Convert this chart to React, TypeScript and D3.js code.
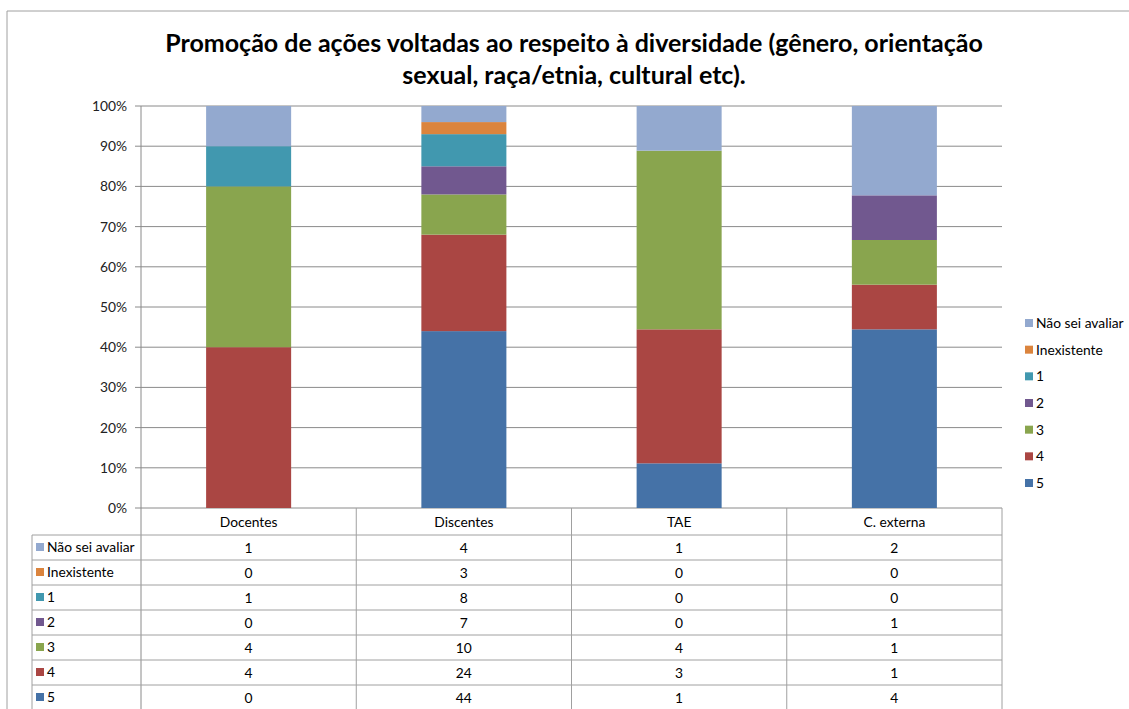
import React from "react";
import * as d3 from "d3";

const categories = ["Docentes", "Discentes", "TAE", "C. externa"];
const seriesNames = ["Não sei avaliar", "Inexistente", "1", "2", "3", "4", "5"];
const seriesColors = ["#93A9CF", "#DB843D", "#4198AF", "#71588F", "#89A54E", "#AA4643", "#4572A7"];
const naoSei = [1, 4, 1, 2];
const inexistente = [0, 3, 0, 0];
const s1 = [1, 8, 0, 0];
const s2 = [0, 7, 0, 1];
const s3 = [4, 10, 4, 1];
const s4 = [4, 24, 3, 1];
const s5 = [0, 44, 1, 4];
const seriesValues = [naoSei, inexistente, s1, s2, s3, s4, s5];
const yTicks = [0, 0.1, 0.2, 0.3, 0.4, 0.5, 0.6, 0.7, 0.8, 0.9, 1];
const titleLines = [
  "Promoção de ações voltadas ao respeito à diversidade (gênero, orientação",
  "sexual, raça/etnia, cultural etc).",
];

const W = 1129, H = 709;
const L = 141, R = 1002, T = 106, B = 508;
const font = "Lato, 'Open Sans', sans-serif";
const fs = 13.8;

export default function App() {
  const x = d3.scaleBand<string>().domain(categories).range([L, R]).paddingInner(0).paddingOuter(0);
  const y = d3.scaleLinear().domain([0, 1]).range([B, T]);
  const barW = x.bandwidth() * 0.395;

  const order = [...seriesNames.keys()].reverse();
  const rows = categories.map((c, ci) => {
    const o: any = { cat: c };
    seriesNames.forEach((s, si) => (o[s] = seriesValues[si][ci]));
    return o;
  });
  const stack = d3.stack<any>().keys(order.map((i) => seriesNames[i])).offset(d3.stackOffsetExpand);
  const stacked = stack(rows);

  const rowH = 25;
  const headerH = 27;
  const rowY = (i: number) => B + headerH + i * rowH;
  const legendY = d3.scaleLinear().domain([0, seriesNames.length - 1]).range([323, 483]);

  return (
    <svg width={W} height={H} style={{ position: "absolute", left: 0, top: 0, background: "#fff" }} fontFamily={font}>
      <rect x={0} y={0} width={W} height={H} fill="#fff" />
      <line x1={7} x2={W} y1={11} y2={11} stroke="#a0a0a0" />
      <line x1={7} x2={7} y1={11} y2={H} stroke="#a0a0a0" />
      {titleLines.map((t, i) => (
        <text key={i} x={574} y={52 + i * 32} textAnchor="middle" fontSize={25} fontWeight="bold" fill="#000">
          {t}
        </text>
      ))}
      {yTicks.map((t) => (
        <g key={t}>
          <line x1={L - 6} x2={R} y1={y(t)} y2={y(t)} stroke="#8a8a8a" />
          <text x={127} y={y(t) + 5} textAnchor="end" fontSize={fs} fill="#222">
            {d3.format(".0%")(t)}
          </text>
        </g>
      ))}
      {stacked.map((layer) => {
        const si = seriesNames.indexOf(layer.key);
        return layer.map((d, ci) => (
          <rect
            key={layer.key + ci}
            x={x(categories[ci])! + (x.bandwidth() - barW) / 2}
            y={y(d[1])}
            width={barW}
            height={Math.max(0, y(d[0]) - y(d[1]))}
            fill={seriesColors[si]}
          />
        ));
      })}
      <line x1={L} x2={L} y1={T} y2={H} stroke="#8a8a8a" />
      {categories.map((c) => (
        <g key={c}>
          <line x1={x(c)! + x.bandwidth()} x2={x(c)! + x.bandwidth()} y1={B} y2={H} stroke="#a0a0a0" />
          <text x={x(c)! + x.bandwidth() / 2} y={B + 19} textAnchor="middle" fontSize={fs} fill="#000">
            {c}
          </text>
        </g>
      ))}
      <line x1={32} x2={32} y1={rowY(0)} y2={H} stroke="#a0a0a0" />
      {seriesNames.map((s, si) => (
        <g key={s}>
          <line x1={32} x2={R} y1={rowY(si)} y2={rowY(si)} stroke="#a0a0a0" />
          <rect x={36} y={rowY(si) + 8} width={8} height={8} fill={seriesColors[si]} />
          <text x={47} y={rowY(si) + 17} fontSize={fs} fill="#000">
            {s}
          </text>
          {categories.map((c, ci) => (
            <text key={c} x={x(c)! + x.bandwidth() / 2} y={rowY(si) + 17.5} textAnchor="middle" fontSize={fs} fill="#000">
              {seriesValues[si][ci]}
            </text>
          ))}
        </g>
      ))}
      {seriesNames.map((s, si) => (
        <g key={s}>
          <rect x={1025} y={legendY(si) - 4} width={8} height={8} fill={seriesColors[si]} />
          <text x={1036} y={legendY(si) + 5} fontSize={fs} fill="#000">
            {s}
          </text>
        </g>
      ))}
    </svg>
  );
}
